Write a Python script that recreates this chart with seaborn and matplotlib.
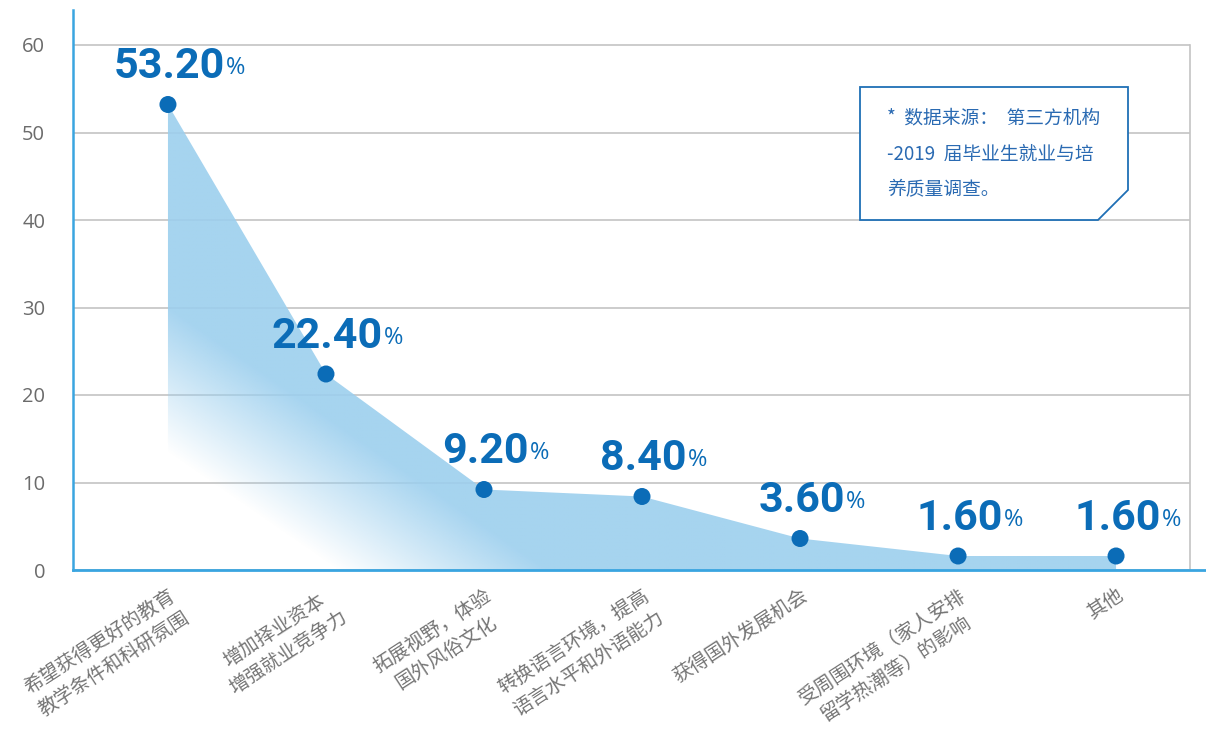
import numpy as np
import pandas as pd
import matplotlib.pyplot as plt
import seaborn as sns
from matplotlib.patches import Polygon
from matplotlib.colors import to_rgb

# data
categories = [
    "希望获得更好的教育\n教学条件和科研氛围",
    "增加择业资本\n增强就业竞争力",
    "拓展视野，体验\n国外风俗文化",
    "转换语言环境，提高\n语言水平和外语能力",
    "获得国外发展机会",
    "受周围环境（家人安排\n留学热潮等）的影响",
    "其他",
]
values = [53.2, 22.4, 9.2, 8.4, 3.6, 1.6, 1.6]
value_labels = ["53.20", "22.40", "9.20", "8.40", "3.60", "1.60", "1.60"]
yticks = [0, 10, 20, 30, 40, 50, 60]
note_lines = ["*  数据来源：  第三方机构", "-2019  届毕业生就业与培", "养质量调查。"]

sns.set_theme(style="white")
plt.rcParams["font.family"] = ["Noto Sans CJK SC", "DejaVu Sans"]

dark_blue = "#0b6cb7"
spine_blue = "#3aa5e0"
fill_blue = "#9ccfee"

df = pd.DataFrame({"pos": np.arange(len(values)), "value": values})

fig = plt.figure(figsize=(12.06, 7.33), dpi=100)
ax = fig.add_axes([73 / 1206, 1 - 570 / 733, (1190 - 73) / 1206, 560 / 733])

x0, x1 = -0.601, 6.468
y0, y1 = 0, 64

# gradient area under the curve
xs = np.linspace(x0, x1, 500)
ys = np.linspace(y0, y1, 400)
X, Y = np.meshgrid(xs, ys)
t = np.clip(0.75 * X + 0.06 * Y - 0.8, 0, 1)
rgba = np.zeros((len(ys), len(xs), 4))
rgba[..., :3] = to_rgb(fill_blue)
rgba[..., 3] = t * 0.9
area = ax.fill_between(df["pos"], df["value"], 0, color="none", lw=0)
im = ax.imshow(rgba, extent=[x0, x1, y0, y1], origin="lower", aspect="auto", zorder=1)
im.set_clip_path(area.get_paths()[0], transform=ax.transData)

sns.scatterplot(data=df, x="pos", y="value", s=150, color=dark_blue, edgecolor="none", zorder=3, ax=ax)

# value labels
num_font = ["Roboto", "Liberation Sans", "DejaVu Sans"]
for p, v, lab in zip(df["pos"], values, value_labels):
    num = ax.annotate(lab, xy=(p, v), xytext=(1, 19), textcoords="offset points",
                      ha="center", va="baseline", color=dark_blue, fontsize=31, fontweight="bold",
                      family=num_font, zorder=4)
    ax.annotate("%", xy=(1, 0), xycoords=num, xytext=(1, 5), textcoords="offset points",
                ha="left", va="bottom", color=dark_blue, fontsize=17, family=["Open Sans", "DejaVu Sans"])

ax.set_xlim(x0, x1)
ax.set_ylim(y0, y1)
ax.set_yticks(yticks)
ax.set_xticks(df["pos"])
ax.set_xticklabels(categories, rotation=33, ha="right", rotation_mode="anchor",
                   multialignment="center", linespacing=1.3)
ax.set_xlabel("")
ax.set_ylabel("")
ax.yaxis.grid(True, color="#c4c4c4", lw=1.2, zorder=0)
ax.set_axisbelow(True)
ax.tick_params(axis="y", length=0, pad=20, labelsize=14.5, labelcolor="#6b6b6b")
ax.tick_params(axis="x", length=0, pad=11, labelsize=14, labelcolor="#757575")
for lbl in ax.get_yticklabels():
    lbl.set_fontfamily(["Open Sans", "DejaVu Sans"])

ax.spines["top"].set_visible(False)
ax.spines["left"].set_color(spine_blue)
ax.spines["left"].set_linewidth(1.8)
ax.spines["bottom"].set_color(spine_blue)
ax.spines["bottom"].set_linewidth(2)
ax.spines["bottom"].set_bounds(x0, 6.57)
ax.spines["right"].set_color("#c4c4c4")
ax.spines["right"].set_linewidth(1.2)
ax.spines["right"].set_bounds(0, 60)

# source note box
W, H = 1206, 733
pts = [(860, 87), (1128, 87), (1128, 190), (1098, 220), (860, 220)]
box = Polygon([(px / W, 1 - py / H) for px, py in pts], closed=True, transform=fig.transFigure,
              facecolor="white", edgecolor="#1f6fb5", lw=1.3, zorder=5)
fig.patches.append(box)
for i, line in enumerate(note_lines):
    fig.text(887 / W, 1 - (118 + 36 * i) / H, line, ha="left", va="center",
             fontsize=13.5, color="#2a6ab2", zorder=6)

fig.savefig("out.png", dpi=100)
